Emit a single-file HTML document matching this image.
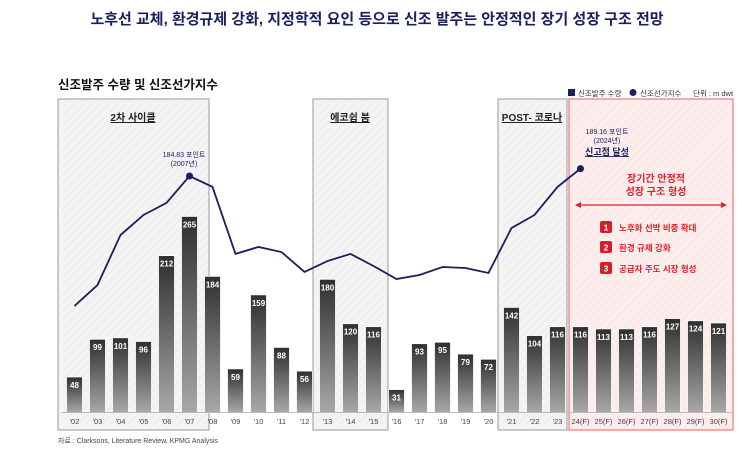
<!DOCTYPE html>
<html><head><meta charset="utf-8"><style>
body{margin:0;width:754px;height:449px;background:#fff;font-family:"Liberation Sans","Noto Sans CJK KR",sans-serif;overflow:hidden}
</style></head><body>
<svg width="754" height="449" font-family="Liberation Sans, Noto Sans CJK KR, sans-serif">
<defs>
<linearGradient id="bg" x1="0" y1="0" x2="0" y2="1"><stop offset="0" stop-color="#2f2f2f"/><stop offset="1" stop-color="#a8a8a8"/></linearGradient>
<pattern id="hatch" width="6" height="6" patternUnits="userSpaceOnUse" patternTransform="rotate(45)"><rect width="6" height="6" fill="#f4f4f4"/><line x1="0" y1="0" x2="0" y2="6" stroke="#ebebeb" stroke-width="2"/></pattern>
<pattern id="rhatch" width="6" height="6" patternUnits="userSpaceOnUse" patternTransform="rotate(45)"><rect width="6" height="6" fill="#fdeeee"/><line x1="0" y1="0" x2="0" y2="6" stroke="#fbe3e3" stroke-width="2"/></pattern>
</defs>
<text x="377" y="24" text-anchor="middle" font-size="15" font-weight="bold" fill="#1a1f5e">노후선 교체, 환경규제 강화, 지정학적 요인 등으로 신조 발주는 안정적인 장기 성장 구조 전망</text>
<text x="58" y="89" font-size="12.5" font-weight="bold" fill="#111">신조발주 수량 및 신조선가지수</text>
<g font-size="7.5" fill="#333">
<rect x="568" y="89" width="7" height="7" fill="#1a1f5e"/><text x="578" y="96">신조발주 수량</text>
<circle cx="633" cy="92.5" r="3.5" fill="#1a1f5e"/><text x="640" y="96">신조선가지수</text>
<text x="693" y="96">단위 : m dwt</text>
</g>
<g id="regions">
<rect x="58" y="99" width="151" height="331" fill="url(#hatch)" stroke="#999"/>
<rect x="313" y="99" width="75" height="331" fill="url(#hatch)" stroke="#999"/>
<rect x="498" y="99" width="69" height="331" fill="url(#hatch)" stroke="#999"/>
<rect x="569" y="99" width="164" height="331" fill="url(#rhatch)" stroke="#f05a60"/>
</g>
<g id="bars"></g>
<g id="line"></g>
<g>
<text x="133" y="121" text-anchor="middle" font-size="10" font-weight="bold" fill="#222" text-decoration="underline">2차 사이클</text>
<text x="350" y="121" text-anchor="middle" font-size="10" font-weight="bold" fill="#222" text-decoration="underline">에코쉽 붐</text>
<text x="532" y="121" text-anchor="middle" font-size="10" font-weight="bold" fill="#222" text-decoration="underline">POST- 코로나</text>
<text x="184" y="157" text-anchor="middle" font-size="7" fill="#1a1f5e">184.83 포인트</text>
<text x="184" y="166" text-anchor="middle" font-size="7" fill="#1a1f5e">(2007년)</text>
<text x="607" y="134" text-anchor="middle" font-size="7" fill="#1a1f5e">189.16 포인트</text>
<text x="607" y="143" text-anchor="middle" font-size="7" fill="#1a1f5e">(2024년)</text>
<text x="607" y="155" text-anchor="middle" font-size="9" font-weight="bold" fill="#1a1f5e" text-decoration="underline">신고점 달성</text>
<text x="656" y="182" text-anchor="middle" font-size="10" font-weight="bold" fill="#e0202a">장기간 안정적</text>
<text x="656" y="195" text-anchor="middle" font-size="10" font-weight="bold" fill="#e0202a">성장 구조 형성</text>
<line x1="578" y1="205" x2="724" y2="205" stroke="#e0202a" stroke-width="1.2"/>
<polygon points="575,205 581,202 581,208" fill="#e0202a"/><polygon points="727,205 721,202 721,208" fill="#e0202a"/>
<g font-size="8.5" font-weight="bold">
<rect x="600" y="221" width="12" height="12" rx="2" fill="#d41e28"/><text x="606" y="230.5" text-anchor="middle" fill="#fff">1</text><text x="619" y="231" fill="#e0202a">노후화 선박 비중 확대</text>
<rect x="600" y="241" width="12" height="12" rx="2" fill="#d41e28"/><text x="606" y="250.5" text-anchor="middle" fill="#fff">2</text><text x="619" y="251" fill="#e0202a">환경 규제 강화</text>
<rect x="600" y="262" width="12" height="12" rx="2" fill="#d41e28"/><text x="606" y="271.5" text-anchor="middle" fill="#fff">3</text><text x="619" y="272" fill="#e0202a">공급자 주도 시장 형성</text>
</g>
</g>
<line x1="62" y1="412.5" x2="732" y2="412.5" stroke="#bbb" stroke-width="1"/>
<g id="ticks"></g>
<text x="58" y="443" font-size="7" fill="#444">자료 : Clarksons, Literature Review, KPMG Analysis</text>
</svg>
<script>
const categories=["'02","'03","'04","'05","'06","'07","'08","'09","'10","'11","'12","'13","'14","'15","'16","'17","'18","'19","'20","'21","'22","'23","24(F)","25(F)","26(F)","27(F)","28(F)","29(F)","30(F)"];
const orders=[48,99,101,96,212,265,184,59,159,88,56,180,120,116,31,93,95,79,72,142,104,116,116,113,113,116,127,124,121];
const priceIndex=[108.4,120.7,150.1,161.9,169,184.83,178.4,139,143.1,140.1,128.4,134.8,139,131.9,124.2,126.6,131.3,130.7,127.8,154.2,161.9,178.4,189.16];
const NS="http://www.w3.org/2000/svg";
const x=i=>74.5+i*23;
const yb=v=>412.5-v*0.74;
const yl=v=>176-(v-184.83)*1.7;
function mk(tag,attrs,parent){const e=document.createElementNS(NS,tag);for(const k in attrs)e.setAttribute(k,attrs[k]);parent.appendChild(e);return e;}
const bars=document.getElementById('bars'),ticks=document.getElementById('ticks');
orders.forEach((v,i)=>{
  const r=mk('rect',{x:x(i)-8,y:yb(v),width:16,height:412.5-yb(v),fill:'url(#bg)',stroke:'#fff','stroke-width':0.8},bars);
  
  
  const t=mk('text',{x:x(i),y:yb(v)+11,'text-anchor':'middle','font-size':8,'font-weight':'bold',fill:'#fff'},bars);
  t.textContent=v;
  
  
  const l=mk('text',{x:x(i),y:424,'text-anchor':'middle','font-size':7.5,fill:'#444'},ticks);
  l.textContent=categories[i];
  
  
});
const lg=document.getElementById('line');
const p=mk('polyline',{points:priceIndex.map((v,i)=>x(i)+','+yl(v)).join(' '),fill:'none',stroke:'#1a1f5e','stroke-width':1.8},lg);


[5,22].forEach(i=>{
  const c=mk('circle',{cx:x(i),cy:yl(priceIndex[i]),r:3.5,fill:'#1a1f5e'},lg);
  
  
});
</script>
</body></html>
